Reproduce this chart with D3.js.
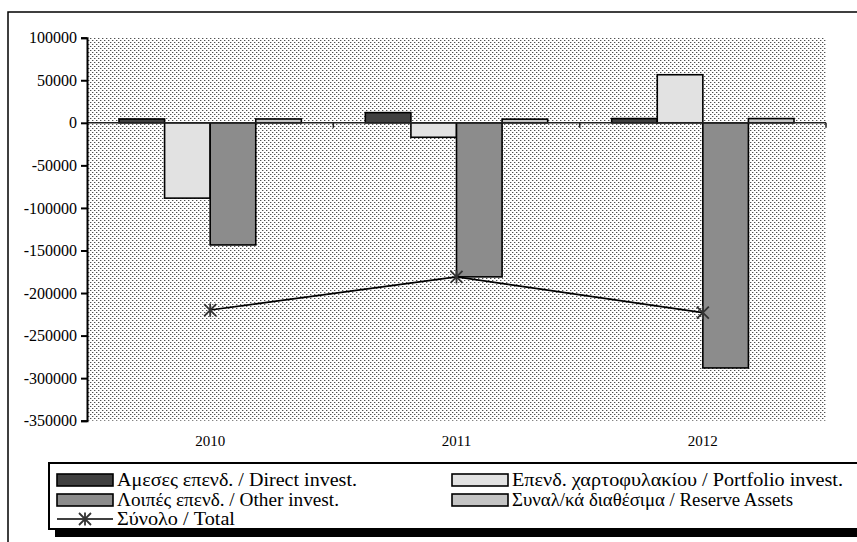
<!DOCTYPE html>
<html>
<head>
<meta charset="utf-8">
<script src="https://cdn.jsdelivr.net/npm/d3@7"></script>
<style>
  body { margin: 0; background: #ffffff; }
</style>
</head>
<body>
<div id="chart"></div>
<script>
"use strict";

// data
const years = ["2010", "2011", "2012"];
const series = [
  "Αμεσες επενδ. / Direct invest.",
  "Επενδ. χαρτοφυλακίου / Portfolio invest.",
  "Λοιπές επενδ. / Other invest.",
  "Συναλ/κά διαθέσιμα / Reserve Assets"
];
const direct = [4500, 12000, 5000];
const portfolio = [-88500, -17000, 56500];
const other = [-143500, -181000, -288000];
const reserve = [4500, 4300, 5000];
const total = [-220000, -181000, -223000];
const totalLabel = "Σύνολο / Total";
const yTicks = [100000, 50000, 0, -50000, -100000, -150000, -200000, -250000, -300000, -350000];

const colors = ["#404040", "#e2e2e2", "#8c8c8c", "#c4c4c4"];
const values = [direct, portfolio, other, reserve];

const width = 857, height = 542;
const plot = {left: 87, right: 826, top: 37.7, bottom: 420.7};
const serif = "'Liberation Serif', 'Times New Roman', Times, serif";

const svg = d3.select("#chart").append("svg")
    .attr("width", width)
    .attr("height", height)
    .style("display", "block");

// dotted plot background
const defs = svg.append("defs");
const pat = defs.append("pattern")
    .attr("id", "dots")
    .attr("patternUnits", "userSpaceOnUse")
    .attr("width", 4)
    .attr("height", 4);
pat.append("rect").attr("width", 4).attr("height", 4).attr("fill", "#ffffff");
pat.append("rect").attr("x", 0).attr("y", 0).attr("width", 1).attr("height", 1).attr("fill", "#505050");
pat.append("rect").attr("x", 2).attr("y", 2).attr("width", 1).attr("height", 1).attr("fill", "#505050");
pat.append("rect").attr("x", 1).attr("y", 0).attr("width", 1).attr("height", 1).attr("fill", "#c0c0c0");
pat.append("rect").attr("x", 3).attr("y", 2).attr("width", 1).attr("height", 1).attr("fill", "#c0c0c0");

// outer frame (runs off the right and bottom edges)
svg.append("rect")
    .attr("x", 8).attr("y", 12)
    .attr("width", width + 20).attr("height", height + 20)
    .attr("fill", "none")
    .attr("stroke", "#000")
    .attr("stroke-width", 1.5);

const x0 = d3.scaleBand()
    .domain(years)
    .range([plot.left, plot.right])
    .padding(0);

const gap = 32;
const x1 = d3.scaleBand()
    .domain(d3.range(series.length))
    .range([gap, x0.bandwidth() - gap])
    .padding(0);

const y = d3.scaleLinear()
    .domain([-350000, 100000])
    .range([plot.bottom, plot.top]);

svg.append("rect")
    .attr("x", plot.left).attr("y", plot.top)
    .attr("width", plot.right - plot.left)
    .attr("height", plot.bottom - plot.top)
    .attr("fill", "url(#dots)");

// bars
const groups = svg.selectAll(".year")
    .data(years)
    .enter().append("g")
    .attr("class", "year")
    .attr("transform", d => `translate(${x0(d)},0)`);

groups.selectAll("rect")
    .data((d, i) => values.map((v, s) => ({s: s, value: v[i]})))
    .enter().append("rect")
    .attr("x", d => x1(d.s))
    .attr("width", x1.bandwidth())
    .attr("y", d => y(Math.max(0, d.value)))
    .attr("height", d => Math.abs(y(d.value) - y(0)))
    .attr("fill", d => colors[d.s])
    .attr("stroke", "#000")
    .attr("stroke-width", 1.6);

// x axis at zero
const xAxis = svg.append("g");
xAxis.append("line")
    .attr("x1", plot.left).attr("x2", plot.right)
    .attr("y1", y(0)).attr("y2", y(0))
    .attr("stroke", "#222").attr("stroke-width", 1.5);
xAxis.selectAll(".xt")
    .data(years)
    .enter().append("line")
    .attr("x1", d => x0(d) + x0.bandwidth()).attr("x2", d => x0(d) + x0.bandwidth())
    .attr("y1", y(0)).attr("y2", y(0) + 5)
    .attr("stroke", "#222").attr("stroke-width", 1.5);

svg.selectAll(".year-label")
    .data(years)
    .enter().append("text")
    .attr("x", d => x0(d) + x0.bandwidth() / 2)
    .attr("y", 446)
    .attr("text-anchor", "middle")
    .style("font-family", serif)
    .style("font-size", "15px")
    .text(d => d);

// y axis
const yAxis = svg.append("g")
    .attr("transform", `translate(${plot.left},0)`)
    .call(d3.axisLeft(y).tickValues(yTicks).tickSize(6).tickPadding(4).tickFormat(d => String(d)));
yAxis.select(".domain").attr("stroke", "#000").attr("stroke-width", 2);
yAxis.selectAll(".tick line").attr("stroke", "#000").attr("stroke-width", 2);
yAxis.selectAll(".tick text")
    .attr("fill", "#000")
    .style("font-family", serif)
    .style("font-size", "16px");

// total line with star markers
const cx = d => x0(d) + x0.bandwidth() / 2;
const line = d3.line()
    .x((d, i) => cx(years[i]))
    .y(d => y(d));

svg.append("path")
    .datum(total)
    .attr("d", line)
    .attr("fill", "none")
    .attr("stroke", "#000")
    .attr("stroke-width", 1.6);

const star = function(g, r){
  g.append("path")
      .attr("d", `M${-r},${-r}L${r},${r}M${-r},${r}L${r},${-r}M0,${-r * 1.1}L0,${r * 1.1}`)
      .attr("stroke", "#333")
      .attr("stroke-width", 1.8)
      .attr("fill", "none");
};

svg.selectAll(".marker")
    .data(total)
    .enter().append("g")
    .attr("class", "marker")
    .attr("transform", (d, i) => `translate(${cx(years[i])},${y(d)})`)
    .each(function(){ star(d3.select(this), 6); });

// legend
const lg = {x: 49, y: 463, w: 830, h: 66};
svg.append("rect")
    .attr("x", lg.x + 6).attr("y", lg.y + 8)
    .attr("width", lg.w).attr("height", lg.h)
    .attr("fill", "#000");
svg.append("rect")
    .attr("x", lg.x).attr("y", lg.y)
    .attr("width", lg.w).attr("height", lg.h)
    .attr("fill", "#fff")
    .attr("stroke", "#000")
    .attr("stroke-width", 2);

const legendItems = [
  {name: series[0], color: colors[0], col: 0, row: 0, len: 240},
  {name: series[1], color: colors[1], col: 1, row: 0, len: 331},
  {name: series[2], color: colors[2], col: 0, row: 1, len: 222},
  {name: series[3], color: colors[3], col: 1, row: 1, len: 281}
];
const colX = [57, 452];
const rowY = [480, 500, 519];

const li = svg.selectAll(".legend-item")
    .data(legendItems)
    .enter().append("g")
    .attr("class", "legend-item")
    .attr("transform", d => `translate(${colX[d.col]},${rowY[d.row]})`);

li.append("rect")
    .attr("x", 0).attr("y", -6)
    .attr("width", 56).attr("height", 12)
    .attr("fill", d => d.color)
    .attr("stroke", "#000")
    .attr("stroke-width", 1.6);

li.append("text")
    .attr("x", 60)
    .attr("dy", "0.35em")
    .attr("textLength", d => d.len)
    .attr("lengthAdjust", "spacingAndGlyphs")
    .style("font-family", serif)
    .style("font-size", "18px")
    .text(d => d.name);

const lt = svg.append("g")
    .attr("transform", `translate(${colX[0]},${rowY[2]})`);
lt.append("line")
    .attr("x1", 0).attr("x2", 56)
    .attr("stroke", "#000").attr("stroke-width", 1.6);
lt.append("g")
    .attr("transform", "translate(28,0)")
    .each(function(){ star(d3.select(this), 6); });
lt.append("text")
    .attr("x", 60)
    .attr("dy", "0.35em")
    .attr("textLength", 118)
    .attr("lengthAdjust", "spacingAndGlyphs")
    .style("font-family", serif)
    .style("font-size", "18px")
    .text(totalLabel);
</script>
</body>
</html>
